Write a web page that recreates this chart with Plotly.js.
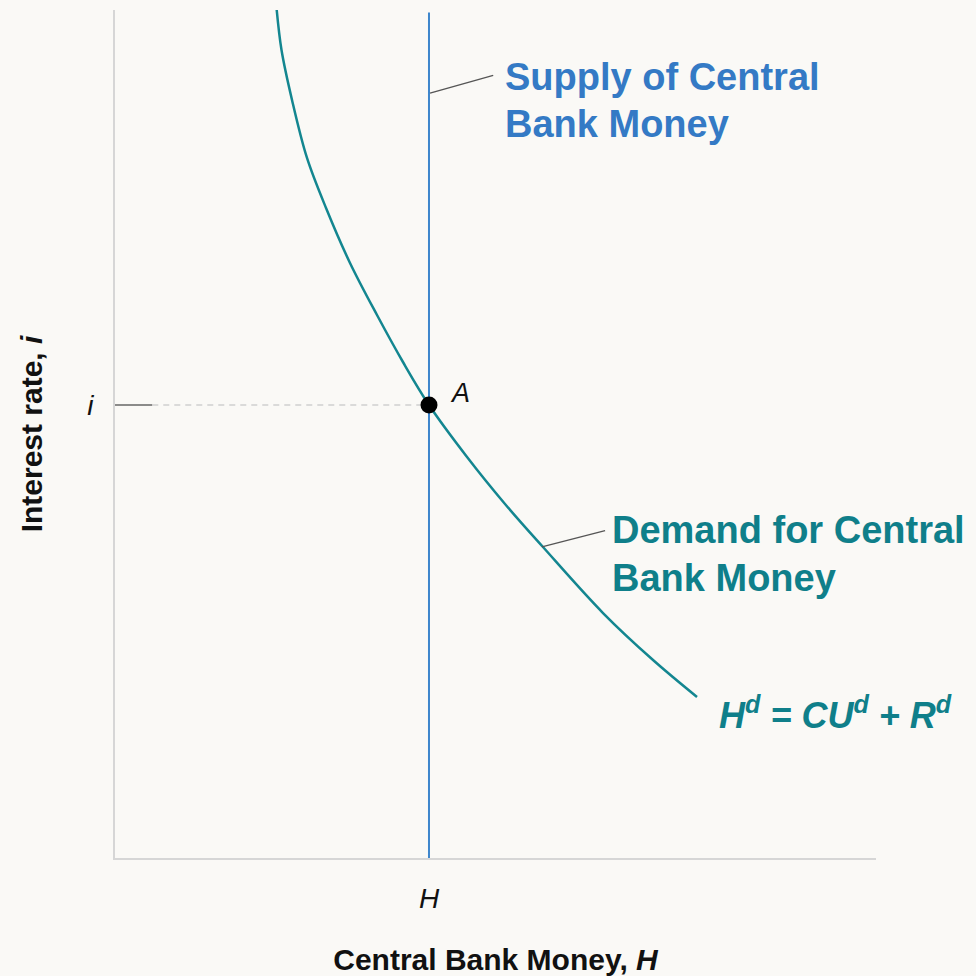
<!DOCTYPE html>
<html>
<head>
<meta charset="utf-8">
<script src="https://cdn.plot.ly/plotly-3.0.1.min.js"></script>
<style>html,body{margin:0;padding:0;background:#faf9f6;}#chart{width:976px;height:976px;}</style>
</head>
<body>
<div id="chart"></div>
<script>
// Demand for central bank money
const demandH = [2.125, 2.188, 2.326, 2.523, 2.773, 3.088, 3.443, 3.784, 4.126, 4.626, 5.125, 5.624, 6.413, 7.070, 7.648];
const demandI = [10.0, 9.528, 8.939, 8.255, 7.665, 7.017, 6.403, 5.849, 5.342, 4.729, 4.175, 3.667, 2.889, 2.335, 1.899];
// Supply of central bank money (vertical)
const supplyH = [4.126, 4.126];
const supplyI = [0, 9.97];
// Equilibrium
const eqH = [4.126];
const eqI = [5.342];
const xTickVals = [4.126];
const xTickText = ['<i>H</i>'];
const yTickVals = [5.342];
const yTickText = ['<i>i</i>'];

const teal = '#138690';
const blue = '#3e86cc';
const tealText = '#0f7f8a';
const blueText = '#347ac5';
const FONT = 'Liberation Sans, Arial, sans-serif';

const traces = [
  {x: [0, 0.49], y: [eqI[0], eqI[0]], mode: 'lines', line: {color: '#666', width: 1.5}, hoverinfo: 'skip'},
  {x: [0.49, eqH[0]], y: [eqI[0], eqI[0]], mode: 'lines', line: {color: '#cfcfcf', width: 1.5, dash: '6px,5px'}, hoverinfo: 'skip'},
  {x: supplyH, y: supplyI, mode: 'lines', line: {color: blue, width: 2}, name: 'Supply'},
  {x: demandH, y: demandI, mode: 'lines', line: {color: teal, width: 2.5, shape: 'spline', smoothing: 1}, name: 'Demand'},
  {x: eqH, y: eqI, mode: 'markers', marker: {color: '#000', size: 17}, name: 'A'}
];

const layout = {
  width: 976, height: 976,
  paper_bgcolor: '#faf9f6', plot_bgcolor: '#faf9f6',
  showlegend: false,
  margin: {l: 115, r: 100, t: 10, b: 118},
  font: {family: FONT, color: '#111'},
  xaxis: {
    range: [0, 10], showgrid: false, zeroline: false,
    showline: true, linecolor: '#d6d6d6', linewidth: 2,
    tickvals: xTickVals, ticktext: xTickText, ticks: '',
    ticklabelstandoff: 14,
    tickfont: {family: FONT, size: 28, color: '#111'},
    title: {text: 'Central Bank Money, <i>H</i>', font: {family: FONT, size: 30, weight: 'bold', color: '#111'}, standoff: 37}
  },
  yaxis: {
    range: [0, 10], showgrid: false, zeroline: false,
    showline: true, linecolor: '#d6d6d6', linewidth: 2,
    tickvals: yTickVals, ticktext: yTickText, ticks: '',
    ticklabelstandoff: 14,
    tickfont: {family: FONT, size: 28, color: '#111'},
    title: {text: 'Interest rate, <i>i</i>', font: {family: FONT, size: 30, weight: 'bold', color: '#111'}, standoff: 36}
  },
  shapes: [
    {type: 'line', xref: 'x', yref: 'y', x0: 4.14, y0: 9.02, x1: 4.97, y1: 9.23, line: {color: '#555', width: 1.3}},
    {type: 'line', xref: 'x', yref: 'y', x0: 5.61, y0: 3.67, x1: 6.44, y1: 3.86, line: {color: '#555', width: 1.3}}
  ],
  annotations: [
    {x: 5.10, y: 9.21, xref: 'x', yref: 'y', text: 'Supply of Central', showarrow: false, xanchor: 'left', yanchor: 'middle', font: {family: FONT, size: 38, weight: 'bold', color: blueText}},
    {x: 5.10, y: 8.66, xref: 'x', yref: 'y', text: 'Bank Money', showarrow: false, xanchor: 'left', yanchor: 'middle', font: {family: FONT, size: 38, weight: 'bold', color: blueText}},
    {x: 6.50, y: 3.87, xref: 'x', yref: 'y', text: 'Demand for Central', showarrow: false, xanchor: 'left', yanchor: 'middle', font: {family: FONT, size: 38, weight: 'bold', color: tealText}},
    {x: 6.50, y: 3.30, xref: 'x', yref: 'y', text: 'Bank Money', showarrow: false, xanchor: 'left', yanchor: 'middle', font: {family: FONT, size: 38, weight: 'bold', color: tealText}},
    {x: 7.91, y: 1.71, xref: 'x', yref: 'y', text: '<i>H<sup>d</sup> = CU<sup>d</sup> + R<sup>d</sup></i>', showarrow: false, xanchor: 'left', yanchor: 'middle', font: {family: FONT, size: 36, weight: 'bold', color: tealText}},
    {x: 4.53, y: 5.48, xref: 'x', yref: 'y', text: '<i>A</i>', showarrow: false, xanchor: 'center', yanchor: 'middle', font: {family: FONT, size: 27, color: '#111'}}
  ]
};

Plotly.newPlot('chart', traces, layout, {displayModeBar: false, staticPlot: true});
</script>
</body>
</html>
